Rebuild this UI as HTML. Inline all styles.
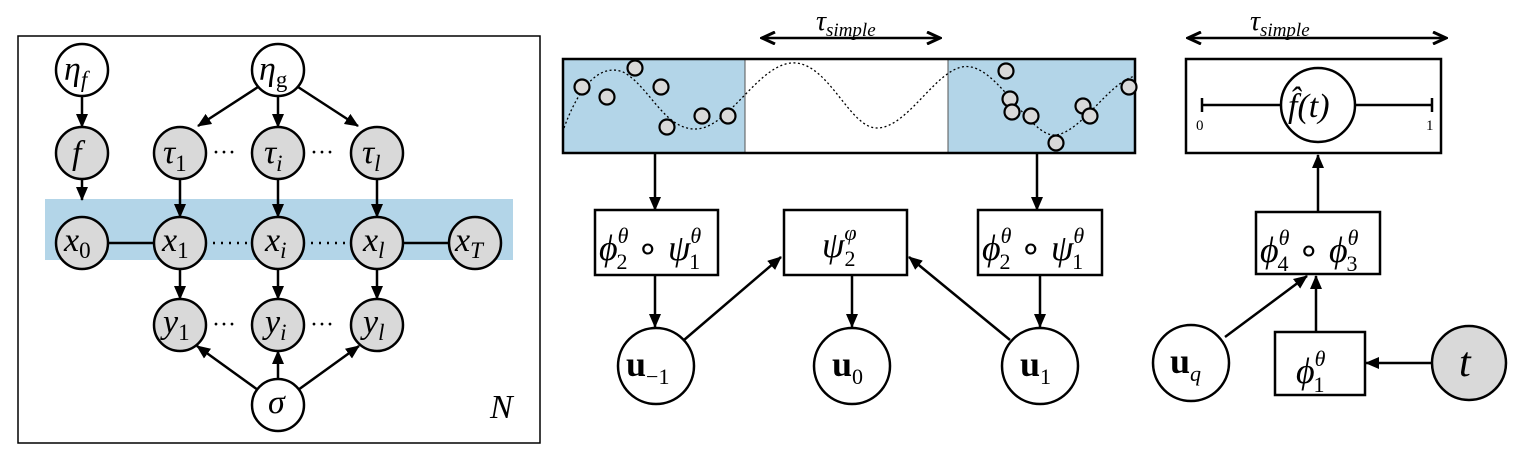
<!DOCTYPE html>
<html><head><meta charset="utf-8"><style>
html,body{margin:0;padding:0;background:#fff;}
svg{display:block;}
text{font-family:"Liberation Serif",serif;fill:#000;}
.it{font-style:italic;}
</style></head><body>
<svg width="1522" height="461" viewBox="0 0 1522 461" xmlns="http://www.w3.org/2000/svg">
<defs>
<marker id="ah" markerWidth="14" markerHeight="12" refX="13" refY="6" orient="auto" markerUnits="userSpaceOnUse"><path d="M0,0 L14,6 L0,12 Z" fill="#000"/></marker>
<marker id="ahs" markerWidth="16" markerHeight="14" refX="14" refY="7" orient="auto-start-reverse" markerUnits="userSpaceOnUse"><path d="M1,1 L14,7 L1,13" fill="none" stroke="#000" stroke-width="3"/></marker>
</defs>
<rect x="18" y="36" width="522" height="407" fill="none" stroke="#000" stroke-width="1.5"/>
<rect x="45" y="199" width="468" height="61" fill="#b3d5e8"/>
<g stroke="#000" stroke-width="2.5" fill="none">
<line x1="82" y1="96" x2="82" y2="127" marker-end="url(#ah)"/>
<line x1="82" y1="179" x2="82" y2="200" marker-end="url(#ah)"/>
<line x1="258" y1="87" x2="198" y2="126" marker-end="url(#ah)"/>
<line x1="278" y1="96" x2="278" y2="127" marker-end="url(#ah)"/>
<line x1="298" y1="87" x2="358" y2="126" marker-end="url(#ah)"/>
<line x1="180" y1="179" x2="180" y2="217" marker-end="url(#ah)"/>
<line x1="278" y1="179" x2="278" y2="217" marker-end="url(#ah)"/>
<line x1="377" y1="179" x2="377" y2="217" marker-end="url(#ah)"/>
<line x1="180" y1="269" x2="180" y2="299" marker-end="url(#ah)"/>
<line x1="278" y1="269" x2="278" y2="299" marker-end="url(#ah)"/>
<line x1="377" y1="269" x2="377" y2="299" marker-end="url(#ah)"/>
<line x1="107" y1="243" x2="155" y2="243"/>
<line x1="402" y1="243" x2="450" y2="243"/>
<line x1="205" y1="243" x2="253" y2="243" stroke-dasharray="2,6"/>
<line x1="303" y1="243" x2="352" y2="243" stroke-dasharray="2,6"/>
<line x1="258" y1="390" x2="197" y2="346" marker-end="url(#ah)"/>
<line x1="278" y1="380" x2="278" y2="351" marker-end="url(#ah)"/>
<line x1="298" y1="390" x2="359" y2="346" marker-end="url(#ah)"/>
</g>
<g stroke="#000" stroke-width="2.5">
<circle cx="82" cy="70" r="26" fill="#fff"/>
<circle cx="278" cy="70" r="26" fill="#fff"/>
<circle cx="82" cy="153" r="26" fill="#d9d9d9"/>
<circle cx="180" cy="153" r="26" fill="#d9d9d9"/>
<circle cx="278" cy="153" r="26" fill="#d9d9d9"/>
<circle cx="377" cy="153" r="26" fill="#d9d9d9"/>
<circle cx="82" cy="243" r="26" fill="#d9d9d9"/>
<circle cx="180" cy="243" r="26" fill="#d9d9d9"/>
<circle cx="278" cy="243" r="26" fill="#d9d9d9"/>
<circle cx="377" cy="243" r="26" fill="#d9d9d9"/>
<circle cx="475" cy="243" r="26" fill="#d9d9d9"/>
<circle cx="180" cy="325" r="26" fill="#d9d9d9"/>
<circle cx="278" cy="325" r="26" fill="#d9d9d9"/>
<circle cx="377" cy="325" r="26" fill="#d9d9d9"/>
<circle cx="278" cy="405" r="26" fill="#fff"/>
</g>
<g font-size="34">
<text x="64" y="80" class="it">η<tspan font-size="23" dy="7">f</tspan></text>
<text x="259" y="80" class="it">η<tspan font-size="23" dy="7" font-style="normal">g</tspan></text>
<text x="72" y="164" class="it">f</text>
<text x="163" y="163" class="it">τ<tspan font-size="23" dy="8" font-style="normal">1</tspan></text>
<text x="264" y="163" class="it">τ<tspan font-size="23" dy="8">i</tspan></text>
<text x="362" y="163" class="it">τ<tspan font-size="23" dy="8">l</tspan></text>
<text x="64" y="251" class="it">x<tspan font-size="23" dy="7" font-style="normal">0</tspan></text>
<text x="162" y="251" class="it">x<tspan font-size="23" dy="7" font-style="normal">1</tspan></text>
<text x="265" y="251" class="it">x<tspan font-size="23" dy="7">i</tspan></text>
<text x="363" y="251" class="it">x<tspan font-size="23" dy="7">l</tspan></text>
<text x="455" y="251" class="it">x<tspan font-size="23" dy="7">T</tspan></text>
<text x="163" y="333" class="it">y<tspan font-size="23" dy="7" font-style="normal">1</tspan></text>
<text x="265" y="333" class="it">y<tspan font-size="23" dy="7">i</tspan></text>
<text x="363" y="333" class="it">y<tspan font-size="23" dy="7">l</tspan></text>
<text x="268" y="413" class="it">σ</text>
<text x="490" y="418" class="it" font-size="34">N</text>
</g>
<g font-size="24"><text x="212" y="160">···</text><text x="310" y="160">···</text><text x="212" y="332">···</text><text x="310" y="332">···</text></g>

<!-- MIDDLE -->
<rect x="563" y="59" width="182" height="94" fill="#b3d5e8"/>
<rect x="948" y="59" width="187" height="94" fill="#b3d5e8"/>
<line x1="745" y1="59" x2="745" y2="153" stroke="#555" stroke-width="1"/>
<line x1="948" y1="59" x2="948" y2="153" stroke="#555" stroke-width="1"/>
<path d="M564,128 C585,70 610,65 625,73 C650,88 665,130 696,129 C730,128 760,60 796,63 C830,66 850,128 877,128 C910,128 940,60 971,67 C1000,72 1030,135 1054,135 C1080,135 1110,80 1136,76" fill="none" stroke="#000" stroke-width="1.3" stroke-dasharray="2,2.5"/>
<rect x="563" y="59" width="572" height="94" fill="none" stroke="#000" stroke-width="2.5"/>
<g fill="#d9d9d9" stroke="#000" stroke-width="2.2">
<circle cx="582" cy="87" r="7.5"/><circle cx="607" cy="97" r="7.5"/><circle cx="635" cy="68" r="7.5"/><circle cx="661" cy="87" r="7.5"/><circle cx="667" cy="127" r="7.5"/><circle cx="702" cy="116" r="7.5"/><circle cx="728" cy="116" r="7.5"/>
<circle cx="1006" cy="71" r="7.5"/><circle cx="1010" cy="99" r="7.5"/><circle cx="1012" cy="112" r="7.5"/><circle cx="1031" cy="116" r="7.5"/><circle cx="1056" cy="143" r="7.5"/><circle cx="1083" cy="106" r="7.5"/><circle cx="1090" cy="116" r="7.5"/><circle cx="1129" cy="87" r="7.5"/>
</g>
<g stroke="#000" stroke-width="2.5" fill="none">
<line x1="762" y1="38" x2="940" y2="38" marker-start="url(#ahs)" marker-end="url(#ahs)"/>
<line x1="1188" y1="38" x2="1446" y2="38" marker-start="url(#ahs)" marker-end="url(#ahs)"/>
<line x1="655" y1="153" x2="655" y2="210" marker-end="url(#ah)"/>
<line x1="1037" y1="153" x2="1037" y2="210" marker-end="url(#ah)"/>
<line x1="655" y1="275" x2="655" y2="327" marker-end="url(#ah)"/>
<line x1="852" y1="275" x2="852" y2="327" marker-end="url(#ah)"/>
<line x1="1040" y1="275" x2="1040" y2="327" marker-end="url(#ah)"/>
<line x1="684" y1="340" x2="781" y2="257" marker-end="url(#ah)"/>
<line x1="1010" y1="340" x2="909" y2="257" marker-end="url(#ah)"/>
<rect x="595" y="210" width="123" height="65" fill="#fff"/>
<rect x="784" y="210" width="123" height="65" fill="#fff"/>
<rect x="978" y="210" width="124" height="65" fill="#fff"/>
<circle cx="656" cy="366" r="38" fill="#fff"/>
<circle cx="852" cy="366" r="38" fill="#fff"/>
<circle cx="1040" cy="366" r="38" fill="#fff"/>
</g>
<text x="816" y="30" font-size="28" class="it">τ<tspan font-size="19" dy="6">simple</tspan></text>
<text x="1250" y="30" font-size="28" class="it">τ<tspan font-size="19" dy="6">simple</tspan></text>

<!-- RIGHT -->
<g stroke="#000" stroke-width="2.5" fill="none">
<rect x="1186" y="59" width="255" height="94"/>
<line x1="1202" y1="105" x2="1432" y2="105"/>
<line x1="1202" y1="98" x2="1202" y2="112"/>
<line x1="1432" y1="98" x2="1432" y2="112"/>
<circle cx="1318" cy="105" r="37" fill="#fff"/>
<line x1="1318" y1="212" x2="1318" y2="155" marker-end="url(#ah)"/>
<line x1="1316" y1="332" x2="1316" y2="276" marker-end="url(#ah)"/>
<line x1="1225" y1="337" x2="1307" y2="276" marker-end="url(#ah)"/>
<line x1="1432" y1="363" x2="1366" y2="363" marker-end="url(#ah)"/>
<rect x="1256" y="212" width="124" height="62" fill="#fff"/>
<rect x="1275" y="332" width="90" height="63" fill="#fff"/>
<circle cx="1191" cy="363" r="38" fill="#fff"/>
<circle cx="1469" cy="363" r="37" fill="#d9d9d9"/>
</g>
<text x="1288" y="117" font-size="34" class="it">f̂(t)</text>
<text x="1196" y="130" font-size="15">0</text>
<text x="1426" y="130" font-size="15">1</text>

<g font-size="36">
<text x="599" y="260"><tspan class="it">ϕ</tspan><tspan font-size="22" dy="-17" class="it">θ</tspan><tspan font-size="22" dx="-12" dy="26">2</tspan><tspan dy="-9"> ∘ </tspan><tspan class="it">ψ</tspan><tspan font-size="22" dy="-17" class="it">θ</tspan><tspan font-size="22" dx="-12" dy="26">1</tspan></text>
<text x="982" y="260"><tspan class="it">ϕ</tspan><tspan font-size="22" dy="-17" class="it">θ</tspan><tspan font-size="22" dx="-12" dy="26">2</tspan><tspan dy="-9"> ∘ </tspan><tspan class="it">ψ</tspan><tspan font-size="22" dy="-17" class="it">θ</tspan><tspan font-size="22" dx="-12" dy="26">1</tspan></text>
<text x="822" y="257"><tspan class="it">ψ</tspan><tspan font-size="22" dy="-17" class="it">φ</tspan><tspan font-size="22" dx="-12" dy="26">2</tspan></text>
<text x="1260" y="262"><tspan class="it">ϕ</tspan><tspan font-size="22" dy="-17" class="it">θ</tspan><tspan font-size="22" dx="-12" dy="26">4</tspan><tspan dy="-9"> ∘ </tspan><tspan class="it">ϕ</tspan><tspan font-size="22" dy="-17" class="it">θ</tspan><tspan font-size="22" dx="-12" dy="26">3</tspan></text>
<text x="1296" y="383"><tspan class="it">ϕ</tspan><tspan font-size="22" dy="-17" class="it">θ</tspan><tspan font-size="22" dx="-12" dy="26">1</tspan></text>
<text x="626" y="376" font-weight="bold">u<tspan font-weight="normal" font-size="22" dy="8">−1</tspan></text>
<text x="832" y="376" font-weight="bold">u<tspan font-weight="normal" font-size="22" dy="8">0</tspan></text>
<text x="1020" y="376" font-weight="bold">u<tspan font-weight="normal" font-size="22" dy="8">1</tspan></text>
<text x="1170" y="373" font-weight="bold">u<tspan font-weight="normal" font-size="22" dy="8" class="it">q</tspan></text>
<text x="1459" y="376" class="it" font-size="42">t</text>
</g>
</svg>
</body></html>
